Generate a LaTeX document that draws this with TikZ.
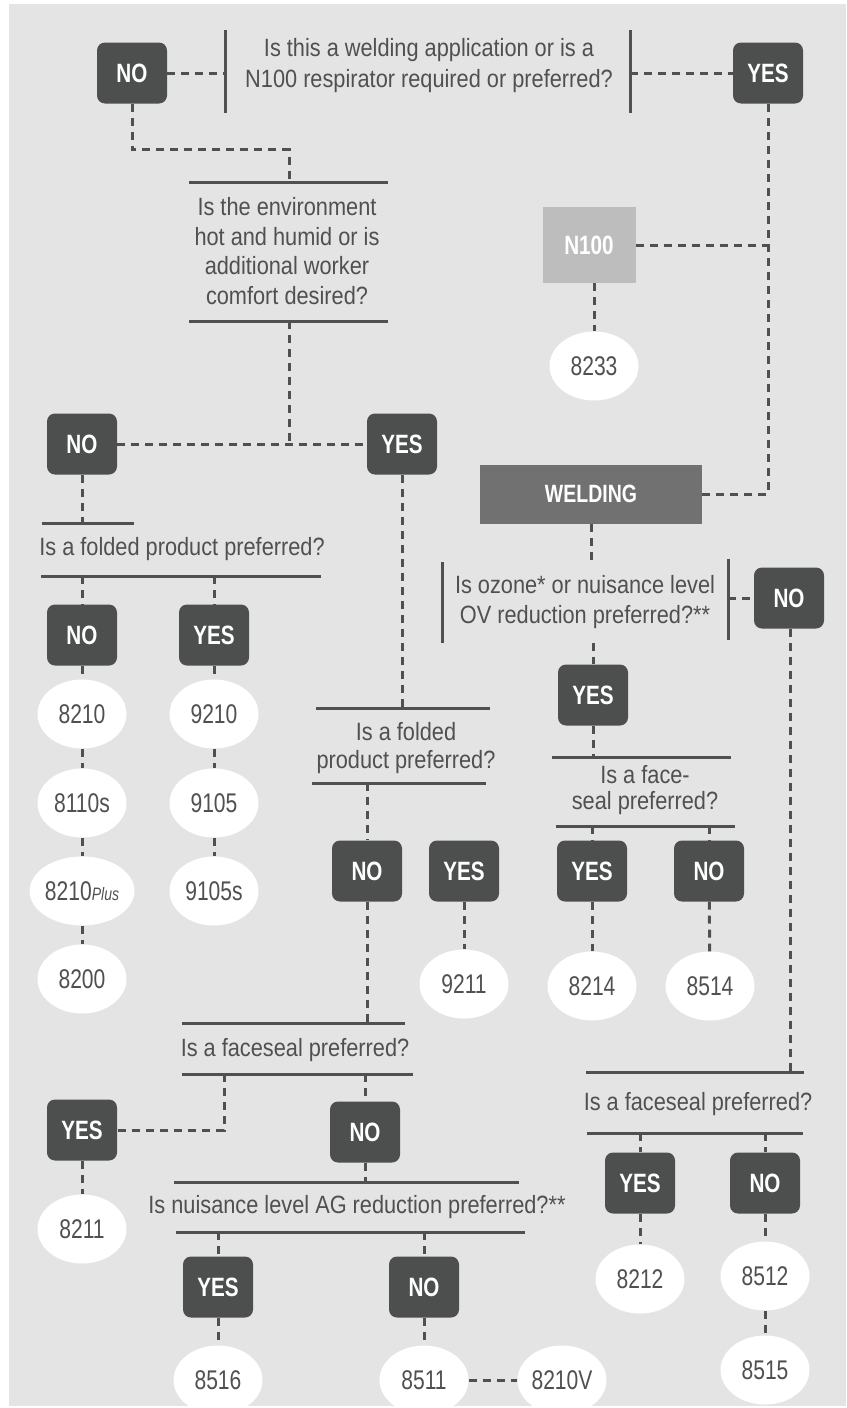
\documentclass[tikz,border=0pt]{standalone}
\usepackage{fontspec}
\setmainfont{Liberation Sans}[FakeStretch=0.87]
\newfontfamily\boxfont{Liberation Sans}[FakeStretch=0.78]
\newfontfamily\numfont{Liberation Sans}[FakeStretch=0.78]
\usetikzlibrary{shapes.geometric}
\definecolor{bggray}{HTML}{E4E4E4}
\definecolor{boxgray}{HTML}{4D4F4E}
\definecolor{txtgray}{HTML}{505050}
\definecolor{linegray}{HTML}{505050}
\definecolor{nhgray}{HTML}{BDBDBD}
\definecolor{weldgray}{HTML}{717171}
\tikzset{
  ans/.style={fill=boxgray, rounded corners=8pt, minimum width=70pt, minimum height=61pt,
    inner sep=0pt, text=white, font=\boxfont\bfseries\fontsize{26.5}{26.5}\selectfont},
  prod/.style={ellipse, fill=white, minimum width=89pt, minimum height=69pt, inner sep=0pt,
    text=txtgray, font=\numfont\fontsize{27}{27}\selectfont},
  ques/.style={align=center, text=txtgray, inner sep=0pt, font=\fontsize{25}{30}\selectfont},
  rule/.style={draw=linegray, line width=3pt},
  link/.style={draw=linegray, line width=3pt, dash pattern=on 8pt off 6pt},
}
\begin{document}
\begin{tikzpicture}[x=1pt,y=-1pt]
\useasboundingbox (0,0) rectangle (846,1408);
\fill[bggray] (9,4) rectangle (846,1406);

% Welding or N100?
\node[ques, font=\fontsize{25}{31}\selectfont] (qWeld) at (429,66)
  {Is this a welding application or is a\\N100 respirator required or preferred?};
\draw[rule] (225,30) -- (225,113);
\draw[rule] (630,30) -- (630,113);
\coordinate (qWeldL) at (225,73);
\coordinate (qWeldR) at (630,73);
\node[ans] (noWeld) at (132,73) {NO};
\node[ans] (yesWeld) at (768,73) {YES};
\draw[link] (noWeld) -- (qWeldL);
\draw[link] (qWeldR) -- (yesWeld);

% Hot and humid?
\node[ques, font=\fontsize{25}{29.5}\selectfont] (qHot) at (287,251)
  {Is the environment\\hot and humid or is\\additional worker\\comfort desired?};
\draw[rule] (189,182) -- (388,182);
\draw[rule] (189,321) -- (388,321);
\coordinate (qHotTop) at (289,182);
\coordinate (qHotBot) at (289,321);
\draw[link] (noWeld.south) -- ++(0,46) -| (qHotTop);
\node[ans] (noHot) at (82,444) {NO};
\node[ans] (yesHot) at (402,444) {YES};
\draw[link] (noHot) -- (yesHot);
\draw[link] (qHotBot) -- (qHotBot |- noHot);

% N100 and welding branch
\node[fill=nhgray, minimum width=93pt, minimum height=76pt, inner sep=0pt, text=white,
  font=\boxfont\bfseries\fontsize{26.5}{26.5}\selectfont] (n100) at (589,245) {N100};
\node[prod] (p8233) at (594,366) {8233};
\node[fill=weldgray, minimum width=222pt, minimum height=59pt, inner sep=0pt, text=white,
  font=\boxfont\bfseries\fontsize{25}{25}\selectfont] (welding) at (591,494) {WELDING};
\draw[link] (yesWeld.south) |- (welding.east);
\draw[link] (n100.east) -- (n100.east -| yesWeld.south);
\draw[link] (n100.south -| p8233) -- (p8233);

% Ozone or OV?
\node[ques] (qOzone) at (585,602)
  {Is ozone* or nuisance level\\OV reduction preferred?**};
\draw[rule] (442,562) -- (442,643);
\draw[rule] (728,559) -- (728,640);
\coordinate (qOzoneTop) at (591,563);
\coordinate (qOzoneR) at (728,598);
\coordinate (qOzoneBot) at (593,643);
\draw[link] (welding.south) -- (qOzoneTop);
\node[ans] (noOzone) at (789,598) {NO};
\node[ans] (yesOzone) at (593,695) {YES};
\draw[link] (qOzoneR) -- (noOzone);
\draw[link] (qOzoneBot) -- (yesOzone);

% Face-seal (welding)
\node[ques, font=\fontsize{25}{26}\selectfont] (qSeal) at (645,790) {Is a face-\\seal preferred?};
\draw[rule] (552,757) -- (731,757);
\draw[rule] (556,826) -- (735,826);
\coordinate (qSealTop) at (593,757);
\coordinate (qSealA) at (592,826);
\coordinate (qSealB) at (709,826);
\draw[link] (yesOzone) -- (qSealTop);
\node[ans] (yesSeal) at (592,871) {YES};
\node[ans] (noSeal) at (709,871) {NO};
\draw[link] (qSealA) -- (yesSeal);
\draw[link] (qSealB) -- (noSeal);
\node[prod] (p8214) at (592,986) {8214};
\node[prod] (p8514) at (710,986) {8514};
\draw[link] (yesSeal) -- (p8214);
\draw[link] (noSeal) -- (p8514);

% Faceseal (no welding)
\node[ques] (qMask) at (698,1104) {Is a faceseal preferred?};
\draw[rule] (586,1072) -- (804,1072);
\draw[rule] (587,1133) -- (803,1133);
\coordinate (qMaskTop) at (790,1072);
\coordinate (qMaskA) at (640,1133);
\coordinate (qMaskB) at (765,1133);
\draw[link] (noOzone.south -| qMaskTop) -- (qMaskTop);
\node[ans] (yesMask) at (640,1183) {YES};
\node[ans] (noMask) at (765,1183) {NO};
\draw[link] (qMaskA) -- (yesMask);
\draw[link] (qMaskB) -- (noMask);
\node[prod] (p8212) at (640,1279) {8212};
\node[prod] (p8512) at (765,1276) {8512};
\node[prod] (p8515) at (765,1370) {8515};
\draw[link] (yesMask) -- (p8212);
\draw[link] (noMask) -- (p8512);
\draw[link] (p8512) -- (p8515);

% Folded (not hot)
\node[ques] (qFold) at (182,549) {Is a folded product preferred?};
\draw[rule] (42,523) -- (134,523);
\draw[rule] (41,576) -- (321,576);
\coordinate (qFoldTop) at (82,523);
\coordinate (qFoldA) at (82,576);
\coordinate (qFoldB) at (214,576);
\draw[link] (noHot) -- (qFoldTop);
\node[ans] (noFold) at (82,635) {NO};
\node[ans] (yesFold) at (214,635) {YES};
\draw[link] (qFoldA) -- (noFold);
\draw[link] (qFoldB) -- (yesFold);
\node[prod] (p8210) at (82,714) {8210};
\node[prod] (p8110s) at (82,803) {8110s};
\node[prod] (p8210p) at (82,891) {8210{\itshape\fontsize{18}{18}\selectfont Plus}};
\node[prod] (p8200) at (82,979) {8200};
\node[prod] (p9210) at (214,714) {9210};
\node[prod] (p9105) at (214,803) {9105};
\node[prod] (p9105s) at (214,891) {9105s};
\draw[link] (noFold) -- (p8210) -- (p8110s) -- (p8210p) -- (p8200);
\draw[link] (yesFold) -- (p9210) -- (p9105) -- (p9105s);

% Folded (hot)
\node[ques, font=\fontsize{25}{28}\selectfont] (qFoldHot) at (406,748) {Is a folded\\product preferred?};
\draw[rule] (316,708) -- (490,708);
\draw[rule] (312,783) -- (486,783);
\coordinate (qFoldHotTop) at (402,708);
\coordinate (qFoldHotA) at (367,783);
\draw[link] (yesHot) -- (qFoldHotTop);
\node[ans] (noFoldHot) at (367,871) {NO};
\node[ans] (yesFoldHot) at (464,871) {YES};
\draw[link] (qFoldHotA) -- (noFoldHot);
\node[prod] (p9211) at (464,984) {9211};
\draw[link] (yesFoldHot) -- (p9211);

% Faceseal (hot, not folded)
\node[ques] (qFace) at (295,1050) {Is a faceseal preferred?};
\draw[rule] (182,1023) -- (405,1023);
\draw[rule] (182,1074) -- (413,1074);
\coordinate (qFaceTop) at (367,1023);
\coordinate (qFaceA) at (224,1074);
\coordinate (qFaceB) at (365,1074);
\draw[link] (noFoldHot) -- (qFaceTop);
\node[ans] (yesFace) at (82,1130) {YES};
\node[ans] (noFace) at (365,1132) {NO};
\draw[link] (qFaceA) |- (yesFace.east);
\draw[link] (qFaceB) -- (noFace);
\node[prod] (p8211) at (82,1229) {8211};
\draw[link] (yesFace) -- (p8211);

% AG reduction
\node[ques] (qAg) at (357,1207) {Is nuisance level AG reduction preferred?**};
\draw[rule] (174,1182) -- (519,1182);
\draw[rule] (176,1232) -- (525,1232);
\coordinate (qAgTop) at (365,1182);
\coordinate (qAgA) at (218,1232);
\coordinate (qAgB) at (424,1232);
\draw[link] (noFace) -- (qAgTop);
\node[ans] (yesAg) at (218,1287) {YES};
\node[ans] (noAg) at (424,1287) {NO};
\draw[link] (qAgA) -- (yesAg);
\draw[link] (qAgB) -- (noAg);
\node[prod] (p8516) at (218,1380) {8516};
\node[prod] (p8511) at (424,1380) {8511};
\node[prod] (p8210v) at (562,1380) {8210V};
\draw[link] (yesAg) -- (p8516);
\draw[link] (noAg) -- (p8511);
\draw[link] (p8511) -- (p8210v);
\end{tikzpicture}
\end{document}
